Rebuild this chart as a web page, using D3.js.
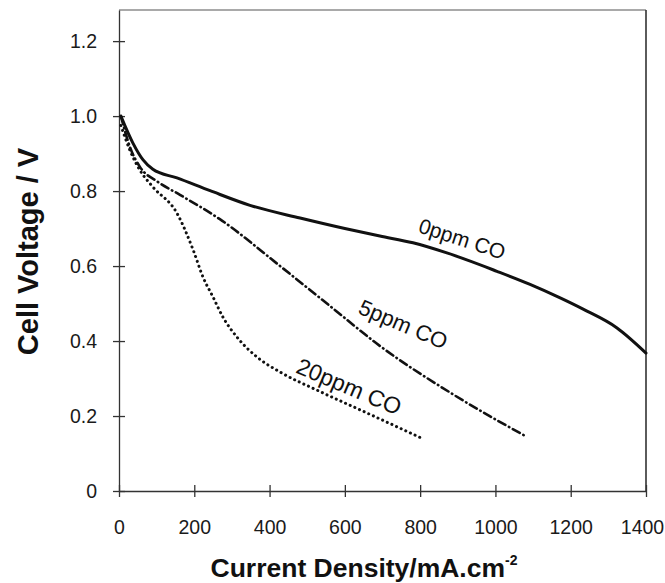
<!DOCTYPE html>
<html>
<head>
<meta charset="utf-8">
<script src="https://cdn.jsdelivr.net/npm/d3@7"></script>
<style>
  body { margin: 0; background: #fff; }
  svg { display: block; font-family: "Liberation Sans", Arial, sans-serif; }
  .axis path, .axis line { stroke: #333; stroke-width: 1.3; }
  .axis text { fill: #1a1a1a; font-size: 19.5px; }
</style>
</head>
<body>
<div id="chart"></div>
<script>
// current density (mA/cm2) and cell voltage (V)
const co0_x = [5, 37, 64, 90, 154, 242, 348, 481, 600, 693, 781, 871, 1004, 1092, 1172, 1233, 1323, 1400]
const co0_y = [1.0, 0.928, 0.883, 0.858, 0.835, 0.801, 0.762, 0.728, 0.700, 0.680, 0.662, 0.635, 0.586, 0.551, 0.515, 0.485, 0.435, 0.368]

const co5_x = [5, 30, 56, 101, 162, 268, 428, 561, 693, 879, 1084]
const co5_y = [1.0, 0.915, 0.864, 0.826, 0.790, 0.725, 0.600, 0.493, 0.387, 0.263, 0.144]

const co20_x = [5, 29, 56, 90, 154, 197, 223, 250, 276, 313, 367, 432, 526, 659, 808]
const co20_y = [0.975, 0.909, 0.855, 0.811, 0.741, 0.643, 0.571, 0.517, 0.464, 0.411, 0.357, 0.315, 0.269, 0.208, 0.139]

const seriesNames = ["0ppm CO", "5ppm CO", "20ppm CO"]
// label anchors in data units, tilt and size
const labelX = [792, 632, 467]
const labelY = [0.691, 0.475, 0.317]
const labelAngle = [18, 23, 23]
const labelSize = [21, 22, 23]

const xTicks = [0, 200, 400, 600, 800, 1000, 1200, 1400]
const yTicks = [0, 0.2, 0.4, 0.6, 0.8, 1.0, 1.2]

const width = 665, height = 583
const margin = { top: 10, right: 19, bottom: 92, left: 119 }

const svg = d3.select("#chart").append("svg")
    .attr("width", width)
    .attr("height", height)

const xScale = d3.scaleLinear().domain([0, 1400]).range([margin.left, width - margin.right])
const yScale = d3.scaleLinear().domain([0, 1.283]).range([height - margin.bottom, margin.top])

// frame top & right
svg.append("line")
    .attr("x1", xScale(0)).attr("x2", xScale(1400))
    .attr("y1", yScale(1.283)).attr("y2", yScale(1.283))
    .attr("stroke", "#555").attr("stroke-width", 1.2)
svg.append("line")
    .attr("x1", xScale(1400)).attr("x2", xScale(1400))
    .attr("y1", yScale(1.283)).attr("y2", yScale(0))
    .attr("stroke", "#333").attr("stroke-width", 1.6)

// axes
const xAxis = svg.append("g")
    .attr("class", "axis")
    .attr("transform", `translate(0,${yScale(0)})`)
    .call(d3.axisBottom(xScale).tickValues(xTicks).tickSize(6).tickSizeOuter(0).tickFormat(d3.format("d")))
xAxis.selectAll(".tick line").attr("y1", -6)
xAxis.selectAll(".tick text").attr("y", 29)
// last label sits on the page edge, nudge it in
xAxis.selectAll(".tick text").filter(d => d === 1400).attr("x", -4)

const yAxis = svg.append("g")
    .attr("class", "axis")
    .attr("transform", `translate(${xScale(0)},0)`)
    .call(d3.axisLeft(yScale).tickValues(yTicks).tickSize(6).tickSizeOuter(0)
        .tickFormat(d => d === 0 ? "0" : d3.format(".1f")(d)))
yAxis.selectAll(".tick line").attr("x1", 6)
yAxis.selectAll(".tick text").attr("x", -22)

// the three polarisation curves
const line = d3.line()
    .x(d => xScale(d[0]))
    .y(d => yScale(d[1]))
    .curve(d3.curveMonotoneX)

const curves = [
    { data: d3.zip(co0_x, co0_y), width: 3, dash: null },
    { data: d3.zip(co5_x, co5_y), width: 2.6, dash: "8,4,0.5,4" },
    { data: d3.zip(co20_x, co20_y), width: 3, dash: "0.1,5" }
]

curves.forEach(c => {
    svg.append("path")
        .datum(c.data)
        .attr("d", line)
        .attr("fill", "none")
        .attr("stroke", "#111")
        .attr("stroke-width", c.width)
        .attr("stroke-linecap", "round")
        .attr("stroke-dasharray", c.dash)
})

// curve labels
seriesNames.forEach((name, i) => {
    const lx = xScale(labelX[i]), ly = yScale(labelY[i])
    svg.append("text")
        .attr("transform", `translate(${lx},${ly}) rotate(${labelAngle[i]})`)
        .attr("font-size", labelSize[i])
        .attr("fill", "#111")
        .text(name)
})

// axis titles
svg.append("text")
    .attr("transform", `translate(38,${(yScale(0) + yScale(1.283)) / 2 + 1}) rotate(-90)`)
    .attr("text-anchor", "middle")
    .attr("font-size", 29)
    .attr("font-weight", "bold")
    .attr("fill", "#111")
    .text("Cell Voltage / V")

const xTitle = svg.append("text")
    .attr("x", 364)
    .attr("y", 577)
    .attr("text-anchor", "middle")
    .attr("font-size", 26.5)
    .attr("font-weight", "bold")
    .attr("fill", "#111")
xTitle.append("tspan").text("Current Density/mA.cm")
xTitle.append("tspan").attr("font-size", 14).attr("dy", -12).text("-2")
</script>
</body>
</html>
